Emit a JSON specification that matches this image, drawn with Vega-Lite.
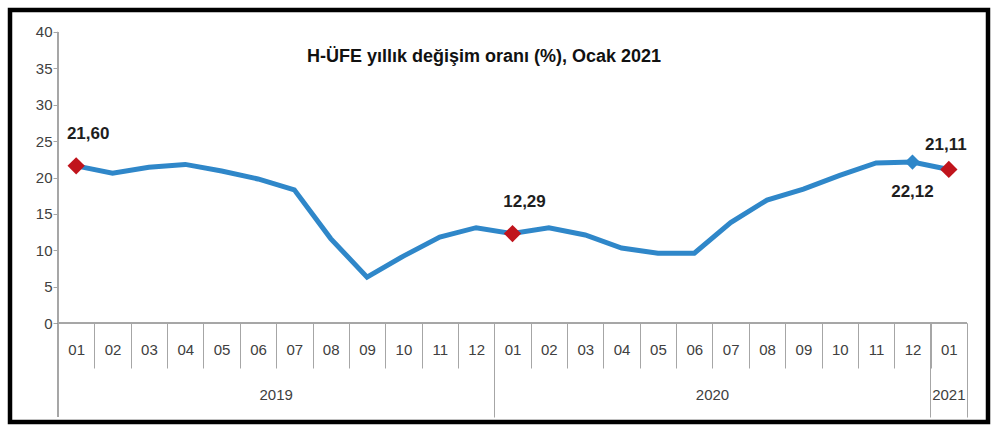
{
  "$schema": "https://vega.github.io/schema/vega-lite/v6.json",
  "width": 978,
  "height": 412,
  "autosize": {"type": "none"},
  "padding": {"left": 10, "top": 10, "right": 12, "bottom": 17},
  "background": "white",
  "config": {
    "view": {"stroke": "black", "strokeWidth": 4.5},
    "font": "Liberation Sans",
    "locale": {"number": {"decimal": ",", "thousands": ".", "grouping": [3], "currency": ["", " TL"]}},
    "axis": {
      "domainColor": "#a6a6a6",
      "tickColor": "#a6a6a6",
      "labelColor": "#404040",
      "labelFont": "Liberation Sans",
      "labelFontSize": 15,
      "grid": false,
      "title": null
    }
  },
  "title": {
    "text": "H-ÜFE yıllık değişim oranı (%), Ocak 2021",
    "font": "Liberation Sans",
    "fontSize": 18,
    "fontWeight": "bold",
    "color": "#111111",
    "anchor": "middle",
    "offset": -56,
    "dx": -15
  },
  "data": {
    "values": [
      {"month": "2019-01", "value": 21.60},
      {"month": "2019-02", "value": 20.6},
      {"month": "2019-03", "value": 21.4},
      {"month": "2019-04", "value": 21.8},
      {"month": "2019-05", "value": 20.9},
      {"month": "2019-06", "value": 19.8},
      {"month": "2019-07", "value": 18.3},
      {"month": "2019-08", "value": 11.6},
      {"month": "2019-09", "value": 6.3},
      {"month": "2019-10", "value": 9.2},
      {"month": "2019-11", "value": 11.8},
      {"month": "2019-12", "value": 13.1},
      {"month": "2020-01", "value": 12.29},
      {"month": "2020-02", "value": 13.1},
      {"month": "2020-03", "value": 12.1},
      {"month": "2020-04", "value": 10.3},
      {"month": "2020-05", "value": 9.6},
      {"month": "2020-06", "value": 9.6},
      {"month": "2020-07", "value": 13.8},
      {"month": "2020-08", "value": 16.9},
      {"month": "2020-09", "value": 18.4},
      {"month": "2020-10", "value": 20.3},
      {"month": "2020-11", "value": 22.0},
      {"month": "2020-12", "value": 22.12},
      {"month": "2021-01", "value": 21.11}
    ]
  },
  "encoding": {
    "x": {
      "field": "month",
      "type": "ordinal",
      "scale": {"type": "band", "paddingInner": 0, "paddingOuter": 0.9485, "align": 0.6957},
      "axis": null
    },
    "y": {
      "field": "value",
      "type": "quantitative",
      "scale": {"domain": [-13.608, 43.024], "nice": false, "zero": false},
      "axis": {
        "values": [0, 5, 10, 15, 20, 25, 30, 35, 40],
        "orient": "left",
        "offset": -48,
        "domain": false,
        "tickSize": 5,
        "labelPadding": 1
      }
    }
  },
  "layer": [
    {
      "mark": {"type": "rule", "color": "#a6a6a6", "strokeWidth": 1},
      "encoding": {
        "x": {"datum": "2019-01", "type": "ordinal", "bandPosition": 0},
        "y": {"datum": 40, "type": "quantitative"},
        "y2": {"datum": -12.92}
      }
    },
    {
      "mark": {"type": "rule", "color": "#a6a6a6", "strokeWidth": 1},
      "encoding": {
        "x": {"datum": "2019-01", "type": "ordinal", "bandPosition": 0},
        "x2": {"datum": "2021-01", "bandPosition": 1},
        "y": {"datum": 0, "type": "quantitative"}
      }
    },
    {
      "mark": {"type": "line", "color": "#2f87c9", "strokeWidth": 5},
      "encoding": {
        "x": {
          "field": "month",
          "type": "ordinal",
          "axis": {
            "orient": "bottom",
            "offset": -99,
            "domain": false,
            "tickBand": "extent",
            "tickSize": 45,
            "labelAngle": 0,
            "labelPadding": -26,
            "labelExpr": "datum.value ? slice(datum.value, 5) : ''"
          }
        }
      }
    },
    {
      "transform": [{"filter": "datum.month == '2020-12'"}],
      "mark": {"type": "point", "shape": "diamond", "filled": true, "color": "#2f87c9", "size": 230, "opacity": 1},
      "encoding": {
        "x": {
          "field": "month",
          "type": "ordinal",
          "axis": {
            "orient": "bottom",
            "offset": -99,
            "values": ["2019-06", "2020-06"],
            "ticks": false,
            "domain": false,
            "labelAngle": 0,
            "labelPadding": 64,
            "labelOffset": 18.18,
            "labelExpr": "slice(datum.value, 0, 4)"
          }
        }
      }
    },
    {
      "transform": [{"filter": "datum.month == '2019-01' || datum.month == '2020-01' || datum.month == '2021-01'"}],
      "mark": {"type": "point", "shape": "diamond", "filled": true, "color": "#c0141c", "size": 300, "opacity": 1},
      "encoding": {
        "x": {
          "field": "month",
          "type": "ordinal",
          "axis": {
            "orient": "bottom",
            "offset": -99,
            "bandPosition": 1,
            "values": ["2019-12", "2020-12", "2021-01"],
            "tickSize": 94,
            "domain": false,
            "labelAngle": 0,
            "labelPadding": -30,
            "labelExpr": "datum.value == '2021-01' ? '2021' : ''"
          }
        }
      }
    },
    {
      "transform": [{"filter": "datum.month == '2019-01' || datum.month == '2020-01'"}],
      "mark": {"type": "text", "font": "Liberation Sans", "fontSize": 17, "fontWeight": "bold", "color": "#1e1e1e", "dx": 12, "dy": -32},
      "encoding": {"text": {"field": "value", "type": "quantitative", "format": ".2f"}}
    },
    {
      "transform": [{"filter": "datum.month == '2021-01'"}],
      "mark": {"type": "text", "font": "Liberation Sans", "fontSize": 17, "fontWeight": "bold", "color": "#1e1e1e", "dx": -3, "dy": -24},
      "encoding": {"text": {"field": "value", "type": "quantitative", "format": ".2f"}}
    },
    {
      "transform": [{"filter": "datum.month == '2020-12'"}],
      "mark": {"type": "text", "font": "Liberation Sans", "fontSize": 17, "fontWeight": "bold", "color": "#1e1e1e", "dx": 0, "dy": 30},
      "encoding": {"text": {"field": "value", "type": "quantitative", "format": ".2f"}}
    }
  ],
  "resolve": {"axis": {"x": "independent"}}
}
